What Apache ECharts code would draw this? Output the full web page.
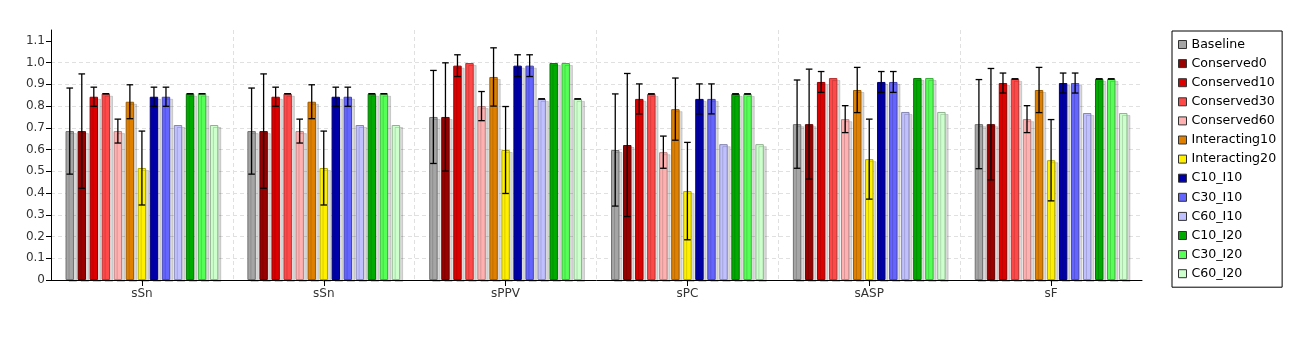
<!DOCTYPE html>
<html>
<head>
<meta charset="utf-8">
<script src="https://cdn.jsdelivr.net/npm/echarts@6/dist/echarts.min.js"></script>
<style>
  html, body { margin: 0; padding: 0; background: #fff; }
  #chart { width: 1302px; height: 341px; }
</style>
</head>
<body>
<div id="chart"></div>
<script>
// Categories on the x axis
const categories = ['sSn', 'sSn', 'sPPV', 'sPC', 'sASP', 'sF'];

// Series names, in legend / bar order
const seriesNames = ['Baseline', 'Conserved0', 'Conserved10', 'Conserved30', 'Conserved60',
  'Interacting10', 'Interacting20', 'C10_I10', 'C30_I10', 'C60_I10', 'C10_I20', 'C30_I20', 'C60_I20'];

// Mean values per series (one entry per category)
const baseline      = [0.685, 0.685, 0.750, 0.598, 0.717, 0.717];
const conserved0    = [0.685, 0.685, 0.750, 0.621, 0.717, 0.717];
const conserved10   = [0.843, 0.843, 0.986, 0.833, 0.911, 0.906];
const conserved30   = [0.857, 0.857, 0.998, 0.856, 0.929, 0.925];
const conserved60   = [0.685, 0.685, 0.800, 0.588, 0.740, 0.740];
const interacting10 = [0.820, 0.820, 0.934, 0.786, 0.874, 0.874];
const interacting20 = [0.515, 0.515, 0.598, 0.409, 0.556, 0.551];
const c10i10        = [0.843, 0.843, 0.986, 0.833, 0.911, 0.906];
const c30i10        = [0.843, 0.843, 0.986, 0.833, 0.911, 0.906];
const c60i10        = [0.713, 0.713, 0.833, 0.625, 0.773, 0.768];
const c10i20        = [0.857, 0.857, 0.998, 0.856, 0.929, 0.925];
const c30i20        = [0.857, 0.857, 0.998, 0.856, 0.929, 0.925];
const c60i20        = [0.713, 0.713, 0.833, 0.625, 0.773, 0.768];

// Half-width of the error interval per series (null = no error bar)
const baselineErr      = [0.198, 0.198, 0.214, 0.258, 0.203, 0.205];
const conserved0Err    = [0.263, 0.263, 0.249, 0.329, 0.253, 0.256];
const conserved10Err   = [0.044, 0.044, 0.050, 0.069, 0.048, 0.046];
const conserved30Err   = [0, 0, null, 0, null, 0];
const conserved60Err   = [0.055, 0.055, 0.067, 0.074, 0.062, 0.062];
const interacting10Err = [0.078, 0.078, 0.134, 0.143, 0.104, 0.104];
const interacting20Err = [0.170, 0.170, 0.200, 0.224, 0.184, 0.187];
const c10i10Err        = [0.044, 0.044, 0.050, 0.069, 0.048, 0.046];
const c30i10Err        = [0.044, 0.044, 0.050, 0.069, 0.048, 0.046];
const c60i10Err        = [null, null, 0, null, null, null];
const c10i20Err        = [0, 0, null, 0, null, 0];
const c30i20Err        = [0, 0, null, 0, null, 0];
const c60i20Err        = [null, null, 0, null, null, null];

// Y axis tick values
const yTicks = [0, 0.1, 0.2, 0.3, 0.4, 0.5, 0.6, 0.7, 0.8, 0.9, 1.0, 1.1];

const means = [baseline, conserved0, conserved10, conserved30, conserved60, interacting10,
  interacting20, c10i10, c30i10, c60i10, c10i20, c30i20, c60i20];
const errors = [baselineErr, conserved0Err, conserved10Err, conserved30Err, conserved60Err,
  interacting10Err, interacting20Err, c10i10Err, c30i10Err, c60i10Err, c10i20Err, c30i20Err, c60i20Err];

// Fill and outline colours per series
const fills = ['#a5a5a5', '#990000', '#dd0000', '#ff4848', '#ffb0b0', '#e08000', '#fff000',
  '#0000aa', '#6464ff', '#c0c0ff', '#00aa00', '#55ff55', '#ccffcc'];
const outlines = ['#707070', '#6a0000', '#990000', '#b83232', '#b88080', '#9c5a00', '#b0a600',
  '#000077', '#4646b3', '#8686b3', '#007700', '#3bb33b', '#8fb38f'];

const FONT = 'DejaVu Sans';
const CAT_GAP = 0.16;
const BAR_GAP = 0.43;
const N = seriesNames.length;

const barSeries = seriesNames.map((name, k) => ({
  name,
  type: 'bar',
  data: means[k],
  barCategoryGap: (CAT_GAP * 100) + '%',
  barGap: (BAR_GAP * 100) + '%',
  itemStyle: {
    color: fills[k],
    borderColor: outlines[k],
    borderWidth: 1,
    shadowColor: 'rgba(0,0,0,0.15)',
    shadowOffsetX: 3,
    shadowOffsetY: 2,
    shadowBlur: 0
  }
}));

// Error bar items: [category index, low, high, series index]
const errData = [];
errors.forEach((errs, k) => {
  errs.forEach((e, i) => {
    if (e === null) return;
    errData.push([i, means[k][i] - e, means[k][i] + e, k]);
  });
});

const errorSeries = {
  type: 'custom',
  name: 'error',
  data: errData,
  encode: { x: 0, y: [1, 2] },
  z: 10,
  renderItem: function (params, api) {
    const idx = api.value(0);
    const k = api.value(3);
    const band = api.size([1, 0])[0];
    const w = band * (1 - CAT_GAP) / (N + (N - 1) * BAR_GAP);
    const total = band * (1 - CAT_GAP);
    const center = api.coord([idx, 0])[0];
    const x = center - total / 2 + w / 2 + k * w * (1 + BAR_GAP);
    const yLo = api.coord([idx, api.value(1)])[1];
    const yHi = api.coord([idx, api.value(2)])[1];
    const cap = 3.3;
    const style = { stroke: '#000', lineWidth: 1.3 };
    return {
      type: 'group',
      children: [
        { type: 'line', shape: { x1: x, y1: yHi, x2: x, y2: yLo }, style },
        { type: 'line', shape: { x1: x - cap, y1: yHi, x2: x + cap, y2: yHi }, style },
        { type: 'line', shape: { x1: x - cap, y1: yLo, x2: x + cap, y2: yLo }, style }
      ]
    };
  }
};

const chart = echarts.init(document.getElementById('chart'), null, { renderer: 'canvas' });
chart.setOption({
  animation: false,
  backgroundColor: '#fff',
  textStyle: { fontFamily: FONT },
  grid: { left: 51, right: 160, top: 30, bottom: 61, containLabel: false },
  legend: {
    data: seriesNames,
    orient: 'vertical',
    left: 1172,
    top: 31,
    padding: [7, 6, 7, 6],
    itemGap: 6.1,
    itemWidth: 8,
    itemHeight: 8,
    icon: 'rect',
    backgroundColor: '#fff',
    borderColor: '#000',
    borderWidth: 1,
    itemStyle: { borderColor: '#333', borderWidth: 1, shadowColor: 'transparent' },
    textStyle: { fontFamily: FONT, fontSize: 12.6, color: '#000' },
    selectedMode: false
  },
  xAxis: {
    type: 'category',
    data: categories,
    boundaryGap: true,
    axisLine: { lineStyle: { color: '#000', width: 1 } },
    axisTick: { show: true, alignWithLabel: true, length: 6, lineStyle: { color: '#000' } },
    axisLabel: { fontFamily: FONT, fontSize: 12, color: '#333', margin: 8 },
    splitLine: {
      show: true,
      showMinLine: false,
      showMaxLine: false,
      lineStyle: { color: '#e0e0e0', type: [4, 3], width: 1 }
    }
  },
  yAxis: {
    type: 'value',
    min: 0,
    max: 1.15,
    interval: 0.1,
    axisLine: { show: true, lineStyle: { color: '#000', width: 1 } },
    axisTick: { show: true, length: 5, lineStyle: { color: '#000' }, customValues: yTicks },
    axisLabel: {
      fontFamily: FONT, fontSize: 12, color: '#333', margin: 6,
      customValues: yTicks,
      formatter: v => (v === 0 ? '0' : v.toFixed(1))
    },
    splitLine: {
      show: true,
      showMinLine: false,
      showMaxLine: false,
      lineStyle: { color: '#e0e0e0', type: [4, 3], width: 1 }
    }
  },
  series: barSeries.concat([errorSeries])
});
</script>
</body>
</html>
